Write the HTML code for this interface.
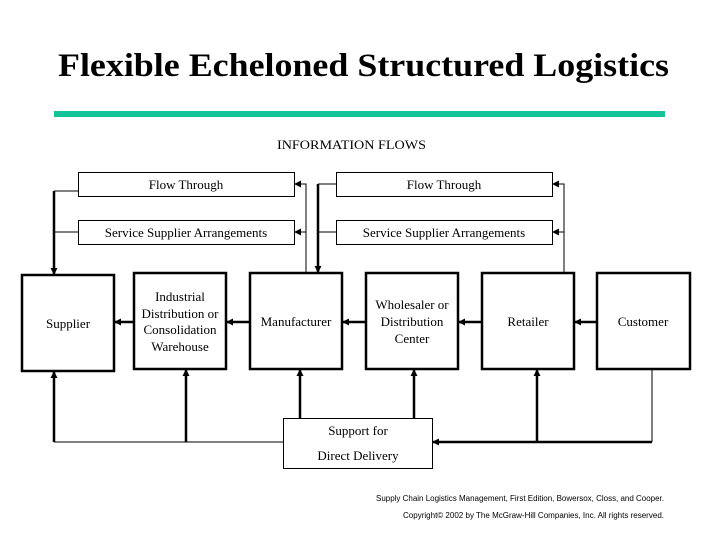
<!DOCTYPE html>
<html><head><meta charset="utf-8"><style>
html,body{margin:0;padding:0;background:#fff;}
svg{display:block;font-family:"Liberation Serif",serif;}
</style></head><body>
<svg width="720" height="540" viewBox="0 0 720 540" xmlns="http://www.w3.org/2000/svg">
<defs>
<marker id="a" markerWidth="7" markerHeight="7" refX="6" refY="3.5" orient="auto" markerUnits="userSpaceOnUse"><path d="M0,0 L7,3.5 L0,7 z" fill="#000"/></marker>
</defs>
<text x="58" y="76" font-size="33" font-weight="bold" textLength="611" lengthAdjust="spacingAndGlyphs">Flexible Echeloned Structured Logistics</text>
<rect x="54" y="111" width="611" height="6" fill="#13c39a"/>
<text x="277" y="149" font-size="13" textLength="149" lengthAdjust="spacingAndGlyphs">INFORMATION FLOWS</text>

<g fill="none" stroke="#000" stroke-width="1">
<rect x="78.5" y="172.5" width="216" height="24"/>
<rect x="78.5" y="220.5" width="216" height="24"/>
<rect x="336.5" y="172.5" width="216" height="24"/>
<rect x="336.5" y="220.5" width="216" height="24"/>
<rect x="283.5" y="418.5" width="149" height="50"/>
</g>
<g fill="none" stroke="#000" stroke-width="2.5">
<rect x="22" y="275" width="92" height="96"/>
<rect x="134" y="273" width="92" height="96"/>
<rect x="250" y="273" width="92" height="96"/>
<rect x="366" y="273" width="92" height="96"/>
<rect x="482" y="273" width="92" height="96"/>
<rect x="597" y="273" width="93" height="96"/>
</g>
<g font-size="13" text-anchor="middle">
<text x="186" y="189">Flow Through</text>
<text x="186" y="237">Service Supplier Arrangements</text>
<text x="444" y="189">Flow Through</text>
<text x="444" y="237">Service Supplier Arrangements</text>
<text x="68" y="328">Supplier</text>
<text x="180" y="301">Industrial</text>
<text x="180" y="318">Distribution or</text>
<text x="180" y="334">Consolidation</text>
<text x="180" y="351">Warehouse</text>
<text x="296" y="326">Manufacturer</text>
<text x="412" y="309">Wholesaler or</text>
<text x="412" y="326">Distribution</text>
<text x="412" y="343">Center</text>
<text x="528" y="326">Retailer</text>
<text x="643" y="326">Customer</text>
<text x="358" y="435">Support for</text>
<text x="358" y="460">Direct Delivery</text>
</g>
<g stroke="#000" fill="none">
<path d="M78,191 H54 M78,232 H54" stroke-width="1"/>
<path d="M54,191 V274" stroke-width="2.5" marker-end="url(#a)"/>
<path d="M306,273 V184 H295" stroke-width="1" marker-end="url(#a)"/>
<path d="M306,232 H295" stroke-width="1" marker-end="url(#a)"/>
<path d="M336,184 H318" stroke-width="1"/>
<path d="M336,232 H318" stroke-width="1"/>
<path d="M318,184 V272" stroke-width="2.5" marker-end="url(#a)"/>
<path d="M564,273 V184 H553" stroke-width="1" marker-end="url(#a)"/>
<path d="M564,232 H553" stroke-width="1" marker-end="url(#a)"/>
<path d="M134,322 H115" stroke-width="2.5" marker-end="url(#a)"/>
<path d="M250,322 H227" stroke-width="2.5" marker-end="url(#a)"/>
<path d="M366,322 H343" stroke-width="2.5" marker-end="url(#a)"/>
<path d="M482,322 H459" stroke-width="2.5" marker-end="url(#a)"/>
<path d="M597,322 H575" stroke-width="2.5" marker-end="url(#a)"/>
<path d="M283,442 H54" stroke-width="1"/>
<path d="M54,442 V372" stroke-width="2.5" marker-end="url(#a)"/>
<path d="M186,442 V370" stroke-width="2.5" marker-end="url(#a)"/>
<path d="M300,418 V370" stroke-width="2.5" marker-end="url(#a)"/>
<path d="M414,418 V370" stroke-width="2.5" marker-end="url(#a)"/>
<path d="M537,442 V370" stroke-width="2.5" marker-end="url(#a)"/>
<path d="M652,369 V442" stroke-width="1"/>
<path d="M652,442 H433" stroke-width="2.5" marker-end="url(#a)"/>
</g>
<g font-family="Liberation Sans,sans-serif" font-size="8">
<text x="376" y="501" textLength="288" lengthAdjust="spacingAndGlyphs">Supply Chain Logistics Management, First Edition, Bowersox, Closs, and Cooper.</text>
<text x="403" y="518" textLength="261" lengthAdjust="spacingAndGlyphs">Copyright© 2002 by The McGraw-Hill Companies, Inc. All rights reserved.</text>
</g>
</svg>
</body></html>
